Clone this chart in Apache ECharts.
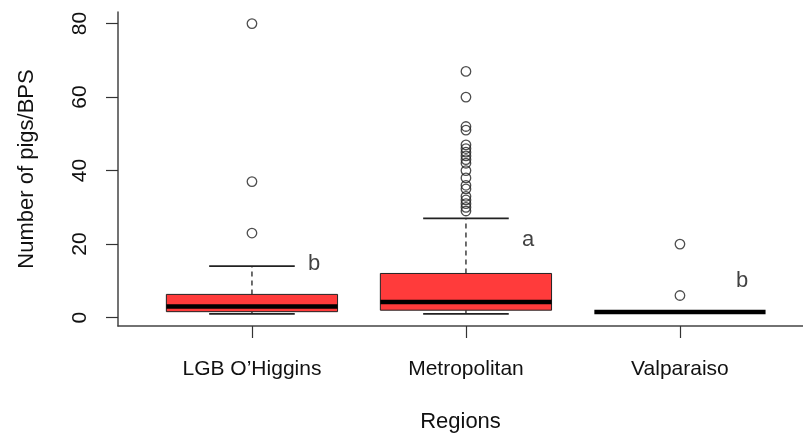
<!DOCTYPE html>
<html>
<head>
<meta charset="utf-8">
<script src="https://cdn.jsdelivr.net/npm/echarts@6/dist/echarts.min.js"></script>
<style>html,body{margin:0;padding:0;background:#fff;}#c{width:803px;height:436px;}</style>
</head>
<body>
<div id="c"></div>
<script>
const categories = ['LGB O\u2019Higgins', 'Metropolitan', 'Valparaiso'];
const lowerWhisker = [1, 1, 1.5];
const q1Values = [1.6, 2, 1.5];
const medianValues = [3, 4.2, 1.5];
const q3Values = [6.3, 12, 1.5];
const upperWhisker = [14, 27, 1.5];
const outliersLGB = [23, 37, 80];
const outliersMetropolitan = [29, 30, 31, 32, 33, 35, 36, 38, 40, 42, 43, 44, 45, 46, 47, 51, 52, 60, 67];
const outliersValparaiso = [6, 20];
const groupLetters = ['b', 'a', 'b'];
const letterY = [14.5, 21, 10];
const yTicks = [0, 20, 40, 60, 80];

const outlierGroups = [outliersLGB, outliersMetropolitan, outliersValparaiso];
const boxData = categories.map((c, i) => [i + 1, lowerWhisker[i], q1Values[i], medianValues[i], q3Values[i], upperWhisker[i]]);
const outlierData = [];
outlierGroups.forEach((g, i) => g.forEach(v => outlierData.push([i + 1, v])));
const letterData = groupLetters.map((l, i) => ({ value: [i + 1.29, letterY[i]], name: l }));

const FONT = '"Liberation Sans", Arial, sans-serif';

function renderBox(params, api) {
  const i = api.value(0);
  const lo = api.value(1), q1 = api.value(2), med = api.value(3), q3 = api.value(4), hi = api.value(5);
  const halfW = api.size([0.4, 0])[0];
  const capHalf = api.size([0.2, 0])[0];
  const cx = api.coord([i, 0])[0];
  const y = v => api.coord([i, v])[1];
  const children = [];
  const dashStyle = { stroke: '#222', lineWidth: 1.3, lineDash: [5, 4] };
  const solid = { stroke: '#222', lineWidth: 1.6 };
  if (hi > q3) {
    children.push({ type: 'line', shape: { x1: cx, y1: y(q3), x2: cx, y2: y(hi) }, style: dashStyle });
  }
  if (lo < q1) {
    children.push({ type: 'line', shape: { x1: cx, y1: y(q1), x2: cx, y2: y(lo) }, style: dashStyle });
  }
  if (hi > q3 || lo < q1) {
    children.push({ type: 'line', shape: { x1: cx - capHalf, y1: y(hi), x2: cx + capHalf, y2: y(hi) }, style: solid });
    children.push({ type: 'line', shape: { x1: cx - capHalf, y1: y(lo), x2: cx + capHalf, y2: y(lo) }, style: solid });
  }
  if (q3 > q1) {
    children.push({ type: 'rect', shape: { x: cx - halfW, y: y(q3), width: 2 * halfW, height: y(q1) - y(q3) },
      style: { fill: '#ff3b3b', stroke: '#222', lineWidth: 1 } });
  }
  children.push({ type: 'line', shape: { x1: cx - halfW, y1: y(med), x2: cx + halfW, y2: y(med) },
    style: { stroke: '#000', lineWidth: 4.5 } });
  return { type: 'group', children };
}

const chart = echarts.init(document.getElementById('c'));
chart.setOption({
  animation: false,
  backgroundColor: '#fff',
  grid: { left: 118, right: 0, top: 12, bottom: 110, outerBoundsMode: 'none', containLabel: false },
  xAxis: {
    type: 'value', min: 0.374, max: 3.575,
    name: 'Regions', nameLocation: 'middle', nameGap: 85,
    nameTextStyle: { fontFamily: FONT, fontSize: 22, color: '#111' },
    axisLine: { show: true, onZero: false, lineStyle: { color: '#444', width: 1.5 } },
    axisTick: { show: true, length: 12, customValues: [1, 2, 3], lineStyle: { color: '#333', width: 1.2 } },
    axisLabel: { show: true, customValues: [1, 2, 3], margin: 33, fontFamily: FONT, fontSize: 21, color: '#111',
      formatter: v => categories[Math.round(v) - 1] || '' },
    splitLine: { show: false }
  },
  yAxis: {
    type: 'value', min: -2.3, max: 83.16,
    name: 'Number of pigs/BPS', nameLocation: 'middle', nameGap: 80, nameRotate: 90,
    nameTextStyle: { fontFamily: FONT, fontSize: 22, color: '#111' },
    axisLine: { show: true, onZero: false, lineStyle: { color: '#444', width: 1.5 } },
    axisTick: { show: true, length: 12, customValues: yTicks, lineStyle: { color: '#333', width: 1.2 } },
    axisLabel: { show: true, customValues: yTicks, rotate: 90, margin: 27, fontFamily: FONT, fontSize: 21, color: '#111' },
    splitLine: { show: false }
  },
  series: [
    {
      type: 'custom', renderItem: renderBox, data: boxData,
      encode: { x: 0, y: [1, 2, 3, 4, 5] }, z: 2
    },
    {
      type: 'scatter', data: outlierData, symbol: 'circle', symbolSize: 9.5,
      itemStyle: { color: 'rgba(255,255,255,0)', borderColor: '#222', borderWidth: 1.3 }, z: 3
    },
    {
      type: 'scatter', data: letterData, symbolSize: 0,
      label: { show: true, position: 'inside', formatter: p => p.name, fontFamily: FONT, fontSize: 22, color: '#111' },
      z: 4
    }
  ]
});
</script>
</body>
</html>
